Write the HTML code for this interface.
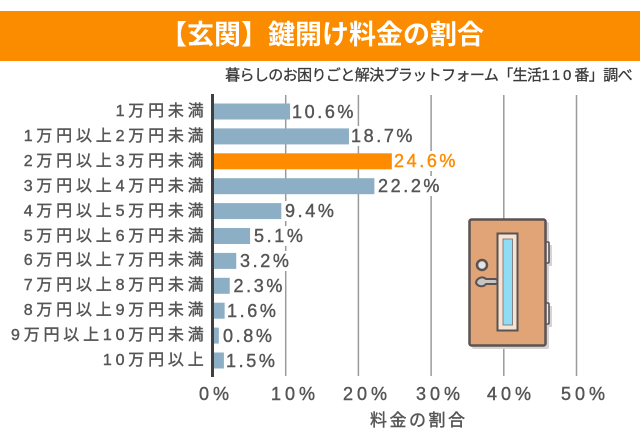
<!DOCTYPE html>
<html><head><meta charset="utf-8">
<style>
html,body{margin:0;padding:0;background:#fff;}
body{width:640px;height:440px;position:relative;overflow:hidden;font-family:"Liberation Sans","Noto Sans CJK JP",sans-serif;}
.band{position:absolute;left:0;top:11px;width:640px;height:50px;background:#fb8c00;}
.title{position:absolute;left:0;top:20px;width:644px;text-align:center;color:#fff;font-size:27px;line-height:30px;font-weight:bold;white-space:nowrap;}
.sub{position:absolute;right:8px;top:66px;color:#3a3a3a;font-size:15px;line-height:20px;letter-spacing:-0.6px;white-space:nowrap;-webkit-text-stroke:0.3px #3a3a3a;}
.sub .d{letter-spacing:3px;}
.yl{position:absolute;right:432.5px;font-size:16px;line-height:20px;letter-spacing:3.8px;color:#555;white-space:nowrap;text-align:right;-webkit-text-stroke:0.4px #555;}
.vl{position:absolute;font-size:18px;line-height:20px;letter-spacing:2.6px;color:#555;background:#fff;white-space:nowrap;-webkit-text-stroke:0.4px #555;}
.xl{position:absolute;top:383.5px;font-size:18px;line-height:20px;letter-spacing:4px;color:#555;white-space:nowrap;-webkit-text-stroke:0.4px #555;}
.at{position:absolute;left:370px;top:411px;font-size:17px;line-height:20px;letter-spacing:2.5px;color:#555;white-space:nowrap;-webkit-text-stroke:0.4px #555;}
svg{position:absolute;left:0;top:0;}
</style></head><body>
<div class="band"></div>
<div class="title">【玄関】鍵開け料金の割合</div>
<div class="sub">暮らしのお困りごと解決プラットフォーム「生活<span class="d">110</span>番」調べ</div>

<svg width="640" height="440" viewBox="0 0 640 440">
  <g stroke="#9a9a9a" stroke-width="1.5">
    <line x1="285.7" y1="95" x2="285.7" y2="376"/>
    <line x1="358.4" y1="95" x2="358.4" y2="376"/>
    <line x1="431.1" y1="95" x2="431.1" y2="376"/>
    <line x1="503.8" y1="95" x2="503.8" y2="376"/>
    <line x1="576.5" y1="95" x2="576.5" y2="376"/>
  </g>
  <g fill="#8cafc6">
    <rect x="214" y="103.5" width="76.06" height="16"/>
    <rect x="214" y="128.4" width="134.95" height="16"/>
    <rect x="214" y="153.3" width="177.84" height="16" fill="#ff8c00"/>
    <rect x="214" y="178.2" width="160.39" height="16"/>
    <rect x="214" y="203.1" width="67.34" height="16"/>
    <rect x="214" y="228.0" width="36.08" height="16"/>
    <rect x="214" y="252.9" width="22.26" height="16"/>
    <rect x="214" y="277.8" width="15.72" height="16"/>
    <rect x="214" y="302.7" width="10.63" height="16"/>
    <rect x="214" y="327.6" width="4.82" height="16"/>
    <rect x="214" y="352.5" width="9.9" height="16"/>
  </g>
</svg>

<div class="yl" style="top:102px">1万円未満</div>
<div class="yl" style="top:126.9px">1万円以上2万円未満</div>
<div class="yl" style="top:151.8px">2万円以上3万円未満</div>
<div class="yl" style="top:176.7px">3万円以上4万円未満</div>
<div class="yl" style="top:201.6px">4万円以上5万円未満</div>
<div class="yl" style="top:226.5px">5万円以上6万円未満</div>
<div class="yl" style="top:251.4px">6万円以上7万円未満</div>
<div class="yl" style="top:276.3px">7万円以上8万円未満</div>
<div class="yl" style="top:301.2px">8万円以上9万円未満</div>
<div class="yl" style="top:326.1px">9万円以上10万円未満</div>
<div class="yl" style="top:351px">10万円以上</div>

<div class="vl" style="left:292px;top:101.5px">10.6%</div>
<div class="vl" style="left:351px;top:126.4px">18.7%</div>
<div class="vl" style="left:394px;top:151.3px;color:#ff8c00;-webkit-text-stroke:0.4px #ff8c00">24.6%</div>
<div class="vl" style="left:378px;top:176.2px">22.2%</div>
<div class="vl" style="left:285px;top:201.1px">9.4%</div>
<div class="vl" style="left:254px;top:226px">5.1%</div>
<div class="vl" style="left:240px;top:250.9px">3.2%</div>
<div class="vl" style="left:233.5px;top:275.8px">2.3%</div>
<div class="vl" style="left:227px;top:300.7px">1.6%</div>
<div class="vl" style="left:223px;top:325.6px">0.8%</div>
<div class="vl" style="left:226px;top:350.5px">1.5%</div>

<svg width="640" height="440" viewBox="0 0 640 440">
  <rect x="472" y="222" width="77" height="127" rx="2" fill="#d4d4d4"/>
  <rect x="546" y="245" width="6" height="21" fill="#d4d4d4"/>
  <rect x="546" y="306" width="6" height="21" fill="#d4d4d4"/>
  <rect x="543" y="242" width="6" height="21" rx="1" fill="#eeeaea" stroke="#5c5252" stroke-width="1.6"/>
  <rect x="543" y="303" width="6" height="21" rx="1" fill="#eeeaea" stroke="#5c5252" stroke-width="1.6"/>
  <rect x="469.5" y="219.5" width="76" height="126" rx="2" fill="#e0a477" stroke="#5c5252" stroke-width="2.5"/>
  <rect x="497.5" y="233.5" width="20" height="97" fill="#f5e4d4" stroke="#5c5252" stroke-width="2"/>
  <rect x="503" y="239" width="9.5" height="86" fill="#8fdcf5" stroke="#7a6a66" stroke-width="0.8"/>
  <circle cx="482" cy="265" r="5" fill="#e4e2e2" stroke="#5c5252" stroke-width="2.5"/>
  <path d="M476 283 a6 6 0 0 1 10 -4 h9 a2.5 2.5 0 0 1 0 5 h-9 a6 6 0 0 1 -10 -1z" fill="#c8c4c4" stroke="#5c5252" stroke-width="2"/>
  <line x1="212.5" y1="94" x2="212.5" y2="377" stroke="#3f3f3f" stroke-width="3"/>
</svg>

<div class="xl" style="left:199px">0%</div>
<div class="xl" style="left:271px">10%</div>
<div class="xl" style="left:343px">20%</div>
<div class="xl" style="left:416px">30%</div>
<div class="xl" style="left:487px">40%</div>
<div class="xl" style="left:561px">50%</div>
<div class="at">料金の割合</div>
</body></html>
